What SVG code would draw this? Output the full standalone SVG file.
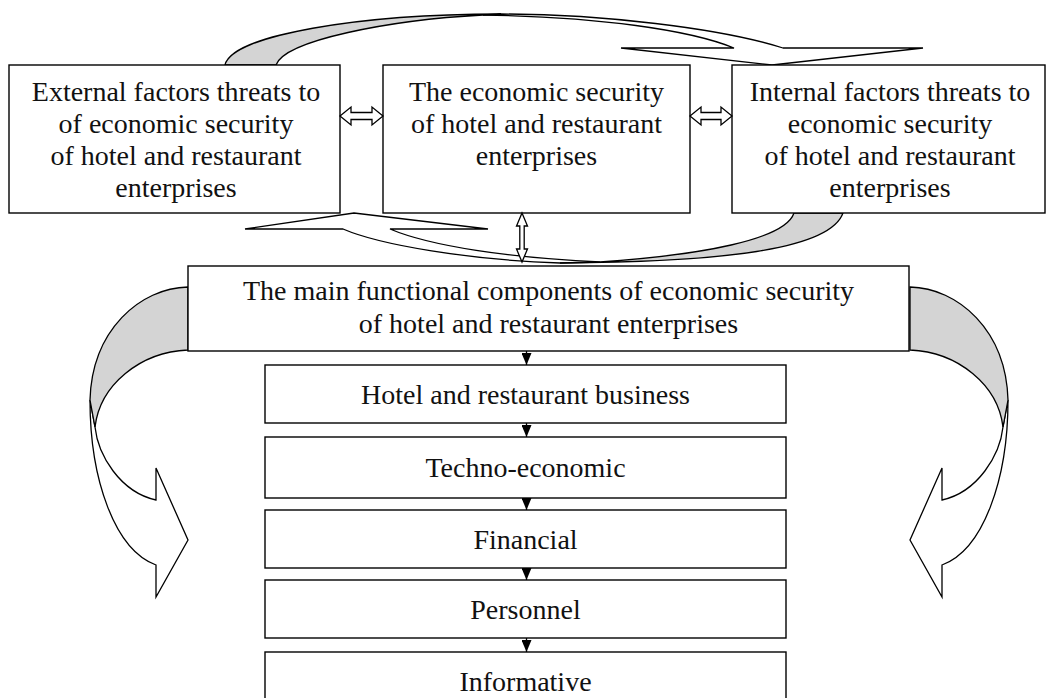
<svg xmlns="http://www.w3.org/2000/svg" width="1049" height="698" viewBox="0 0 1049 698">
<style>
.box{fill:#fff;stroke:#000;stroke-width:1.4}
.t{font-family:"Liberation Serif","Times New Roman",serif;font-size:28px;fill:#111;text-anchor:middle}
.gray{fill:#d4d4d4;stroke:#000;stroke-width:1.3;stroke-linejoin:miter}
.white{fill:#fff;stroke:#000;stroke-width:1.3;stroke-linejoin:miter}
.link{stroke:#000;stroke-width:1.3;fill:none}
.dbl{fill:#fff;stroke:#000;stroke-width:1.3}
</style>
<defs>
<marker id="tri" viewBox="0 0 12 10" refX="12" refY="5" markerWidth="12" markerHeight="10" markerUnits="userSpaceOnUse" orient="auto">
<path d="M0,0 L12,5 L0,10 Z" fill="#000"/>
</marker>
<g id="sideArrow">
<path class="white" d="M90,400 C90,480 115,550 156,565 L156,597 L188,540 L156,468 L156,500 C120,492 98,455 95,427 Z"/>
<path class="gray" d="M188,287 C140,288 92,330 90,400 L95,427 C100,385 140,352 188,350 Z"/>
</g>
</defs>

<g id="curved-arrows">
<g id="top-arrow">
<path class="white" d="M501,14 C600,14 720,28 783,48 L923,48 L772,65 L621,48 L734,48 C690,30 600,17 483,15 Z"/>
<path class="gray" d="M225,65 C232,35 360,14 501,14 L483,15 C390,20 285,40 276,65 Z"/>
</g>
<g id="bottom-arrow">
<path class="white" d="M560,263 C470,260 380,245 343,229 L245,229 L354,213 L488,229 L390,229 C430,246 510,258 600,262 Z"/>
<path class="gray" d="M843,213 C830,250 720,262 560,263 L600,262 C700,255 785,240 794,213 Z"/>
</g>
<use id="left-arrow" href="#sideArrow"/>
<use id="right-arrow" href="#sideArrow" transform="translate(1098,0) scale(-1,1)"/>
</g>

<g id="node-external">
<rect class="box" x="9" y="65" width="331" height="148"/>
<text class="t" x="176" y="101">External factors threats to</text>
<text class="t" x="176" y="133">of economic security</text>
<text class="t" x="176" y="165">of hotel and restaurant</text>
<text class="t" x="176" y="197">enterprises</text>
</g>
<g id="node-center">
<rect class="box" x="383" y="65" width="307" height="148"/>
<text class="t" x="536.5" y="101">The economic security</text>
<text class="t" x="536.5" y="133">of hotel and restaurant</text>
<text class="t" x="536.5" y="165">enterprises</text>
</g>
<g id="node-internal">
<rect class="box" x="732" y="65" width="313" height="148"/>
<text class="t" x="890" y="101">Internal factors threats to</text>
<text class="t" x="890" y="133">economic security</text>
<text class="t" x="890" y="165">of hotel and restaurant</text>
<text class="t" x="890" y="197">enterprises</text>
</g>
<g id="node-main">
<rect class="box" x="188" y="266" width="721" height="85"/>
<text class="t" x="548.5" y="300">The main functional components of economic security</text>
<text class="t" x="548.5" y="333">of hotel and restaurant enterprises</text>
</g>
<g id="node-hotel">
<rect class="box" x="265" y="365" width="521" height="58"/>
<text class="t" x="525.5" y="404">Hotel and restaurant business</text>
</g>
<g id="node-techno">
<rect class="box" x="265" y="437" width="521" height="61"/>
<text class="t" x="525.5" y="477">Techno-economic</text>
</g>
<g id="node-financial">
<rect class="box" x="265" y="510" width="521" height="58"/>
<text class="t" x="525.5" y="549">Financial</text>
</g>
<g id="node-personnel">
<rect class="box" x="265" y="580" width="521" height="58"/>
<text class="t" x="525.5" y="619">Personnel</text>
</g>
<g id="node-informative">
<rect class="box" x="265" y="652" width="521" height="60"/>
<text class="t" x="525.5" y="691">Informative</text>
</g>

<g id="connectors">
<path class="dbl" d="M340,116 L351,107 L351,112.5 L372,112.5 L372,107 L383,116 L372,125 L372,119.5 L351,119.5 L351,125 Z"/>
<path class="dbl" d="M690,116 L701,107 L701,112.5 L721,112.5 L721,107 L732,116 L721,125 L721,119.5 L701,119.5 L701,125 Z"/>
<path class="dbl" d="M522,213 L527.5,226 L524.2,226 L524.2,249 L527.5,249 L522,262 L516.5,249 L519.8,249 L519.8,226 L516.5,226 Z"/>
<line class="link" x1="526.5" y1="351" x2="526.5" y2="365" marker-end="url(#tri)"/>
<line class="link" x1="526.5" y1="423" x2="526.5" y2="437" marker-end="url(#tri)"/>
<line class="link" x1="526.5" y1="498" x2="526.5" y2="510" marker-end="url(#tri)"/>
<line class="link" x1="526.5" y1="568" x2="526.5" y2="580" marker-end="url(#tri)"/>
<line class="link" x1="526.5" y1="638" x2="526.5" y2="652" marker-end="url(#tri)"/>
</g>
</svg>
